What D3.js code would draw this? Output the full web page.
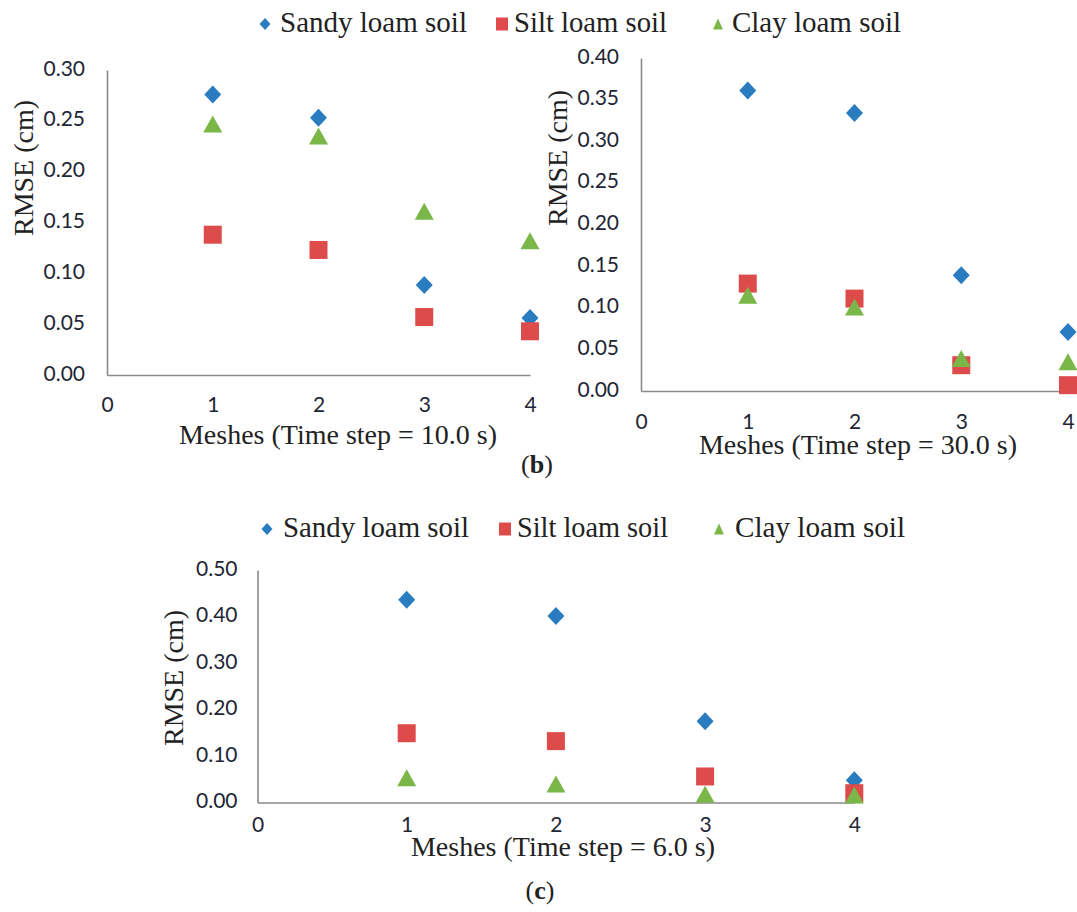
<!DOCTYPE html>
<html>
<head>
<meta charset="utf-8">
<script src="https://cdn.jsdelivr.net/npm/d3@7"></script>
<style>
  html, body { margin: 0; padding: 0; background: #fff; }
  svg { display: block; }
</style>
</head>
<body>
<svg id="fig" width="1077" height="912"></svg>
<script>
// ---- data ----
const meshes = [1, 2, 3, 4];
const xTickValues = [0, 1, 2, 3, 4];
const seriesNames = ["Sandy loam soil", "Silt loam soil", "Clay loam soil"];

// RMSE (cm), time step = 10.0 s
const sandy10 = [0.276, 0.253, 0.0885, 0.056];
const silt10  = [0.138, 0.123, 0.057, 0.043];
const clay10  = [0.247, 0.235, 0.161, 0.132];
const yTicks10 = [0, 0.05, 0.10, 0.15, 0.20, 0.25, 0.30];

// RMSE (cm), time step = 30.0 s
const sandy30 = [0.361, 0.334, 0.139, 0.071];
const silt30  = [0.129, 0.111, 0.031, 0.007];
const clay30  = [0.115, 0.101, 0.039, 0.035];
const yTicks30 = [0, 0.05, 0.10, 0.15, 0.20, 0.25, 0.30, 0.35, 0.40];

// RMSE (cm), time step = 6.0 s
const sandy6 = [0.436, 0.401, 0.175, 0.048];
const silt6  = [0.149, 0.132, 0.056, 0.020];
const clay6  = [0.053, 0.040, 0.018, 0.016];
const yTicks6 = [0, 0.10, 0.20, 0.30, 0.40, 0.50];

// ---- style ----
const colors = ["#2a7cc0", "#de4b4b", "#7ab648"];
const shapes = ["diamond", "square", "triangle"];
const serif = "'Liberation Serif', 'Times New Roman', serif";
const sans = "Lato, 'Open Sans', sans-serif";
const axisColor = "#8a8a8a";
const tickColor = "#1e2535";

const svg = d3.select("#fig");
svg.append("rect").attr("width", 1077).attr("height", 912).attr("fill", "#fff");

// marker outline centred on (cx, cy); w/h are the bounding box
function markerPath(shape, cx, cy, w, h) {
  const p = d3.path();
  if (shape === "diamond") {
    p.moveTo(cx, cy - h / 2); p.lineTo(cx + w / 2, cy);
    p.lineTo(cx, cy + h / 2); p.lineTo(cx - w / 2, cy);
  } else if (shape === "square") {
    p.rect(cx - w / 2, cy - h / 2, w, h);
  } else {
    p.moveTo(cx, cy - h / 2); p.lineTo(cx + w / 2, cy + h / 2);
    p.lineTo(cx - w / 2, cy + h / 2);
  }
  p.closePath();
  return p.toString();
}
const markerSize = { diamond: [17, 18], square: [18, 18], triangle: [19, 17] };
const legendSize = { diamond: [11, 12], square: [12, 13], triangle: [10, 11] };

function legend(cfg) {
  const g = svg.append("g");
  seriesNames.forEach((name, i) => {
    const s = legendSize[shapes[i]];
    g.append("path")
      .attr("d", markerPath(shapes[i], cfg.markerX[i], cfg.markerY, s[0], s[1]))
      .attr("fill", colors[i]);
    g.append("text")
      .attr("x", cfg.textX[i]).attr("y", cfg.baseline)
      .attr("font-family", serif).attr("font-size", 29).attr("fill", "#222")
      .attr("textLength", cfg.textW[i]).attr("lengthAdjust", "spacingAndGlyphs")
      .text(name);
  });
}

function panel(cfg) {
  const g = svg.append("g");
  const x = d3.scaleLinear().domain([0, 4]).range(cfg.xRange);
  const y = d3.scaleLinear().domain([0, cfg.yMax]).range(cfg.yRange);

  // y axis
  const ya = g.append("g").attr("transform", `translate(${x(0)},0)`)
    .call(d3.axisLeft(y).tickValues(cfg.yTicks).tickSize(0).tickSizeOuter(0)
      .tickPadding(cfg.yPad).tickFormat(d3.format(".2f")));
  ya.select(".domain").attr("stroke", axisColor).attr("stroke-width", 1.6);
  ya.selectAll("text").attr("font-family", sans).attr("font-size", 21)
    .attr("fill", tickColor).attr("dy", "0.24em");

  // x axis
  const xa = g.append("g").attr("transform", `translate(0,${y(0)})`)
    .call(d3.axisBottom(x).tickValues(xTickValues).tickSize(0).tickSizeOuter(0)
      .tickPadding(cfg.xPad).tickFormat(d3.format("d")));
  xa.select(".domain").attr("stroke", axisColor).attr("stroke-width", 1.6);
  xa.selectAll("text").attr("font-family", sans).attr("font-size", 21)
    .attr("fill", tickColor);

  // markers, drawn series by series
  cfg.series.forEach((vals, i) => {
    const sz = markerSize[shapes[i]];
    g.append("g").selectAll("path").data(vals).join("path")
      .attr("d", (v, j) => markerPath(shapes[i], x(meshes[j]), y(v), sz[0], sz[1]))
      .attr("fill", colors[i]);
  });

  // axis titles
  g.append("text")
    .attr("x", cfg.xTitle[0]).attr("y", cfg.xTitle[1]).attr("text-anchor", "middle")
    .attr("font-family", serif).attr("font-size", 28).attr("fill", "#222")
    .text(cfg.xTitleText);
  g.append("text")
    .attr("transform", `translate(${cfg.yTitle[0]},${cfg.yTitle[1]}) rotate(-90)`)
    .attr("text-anchor", "middle")
    .attr("font-family", serif).attr("font-size", 28).attr("fill", "#222")
    .text("RMSE (cm)");
}

// ---- figure (b) ----
legend({ markerX: [265, 502, 718], textX: [280, 514, 732], textW: [187, 153, 169],
         markerY: 24, baseline: 32 });

panel({
  xRange: [107, 530], yRange: [375, 70], yMax: 0.30, yTicks: yTicks10,
  yPad: 22, xPad: 22,
  series: [sandy10, silt10, clay10],
  xTitle: [338, 444], xTitleText: "Meshes (Time step = 10.0 s)",
  yTitle: [33, 168]
});

panel({
  xRange: [641, 1068], yRange: [391, 58], yMax: 0.40, yTicks: yTicks30,
  yPad: 22, xPad: 23,
  series: [sandy30, silt30, clay30],
  xTitle: [858, 454], xTitleText: "Meshes (Time step = 30.0 s)",
  yTitle: [567, 158]
});

const capB = svg.append("text").attr("x", 537).attr("y", 473).attr("text-anchor", "middle")
  .attr("font-family", serif).attr("font-size", 26).attr("fill", "#222");
capB.append("tspan").text("(");
capB.append("tspan").attr("font-weight", "bold").text("b");
capB.append("tspan").text(")");

// ---- figure (c) ----
legend({ markerX: [267, 505, 719], textX: [283, 517, 735], textW: [186, 151, 170],
         markerY: 529, baseline: 537 });

panel({
  xRange: [257.5, 854.3], yRange: [802.5, 570], yMax: 0.50, yTicks: yTicks6,
  yPad: 20, xPad: 14.5,
  series: [sandy6, silt6, clay6],
  xTitle: [563, 856], xTitleText: "Meshes (Time step = 6.0 s)",
  yTitle: [183, 678]
});

const capC = svg.append("text").attr("x", 540).attr("y", 899).attr("text-anchor", "middle")
  .attr("font-family", serif).attr("font-size", 26).attr("fill", "#222");
capC.append("tspan").text("(");
capC.append("tspan").attr("font-weight", "bold").text("c");
capC.append("tspan").text(")");
</script>
</body>
</html>
